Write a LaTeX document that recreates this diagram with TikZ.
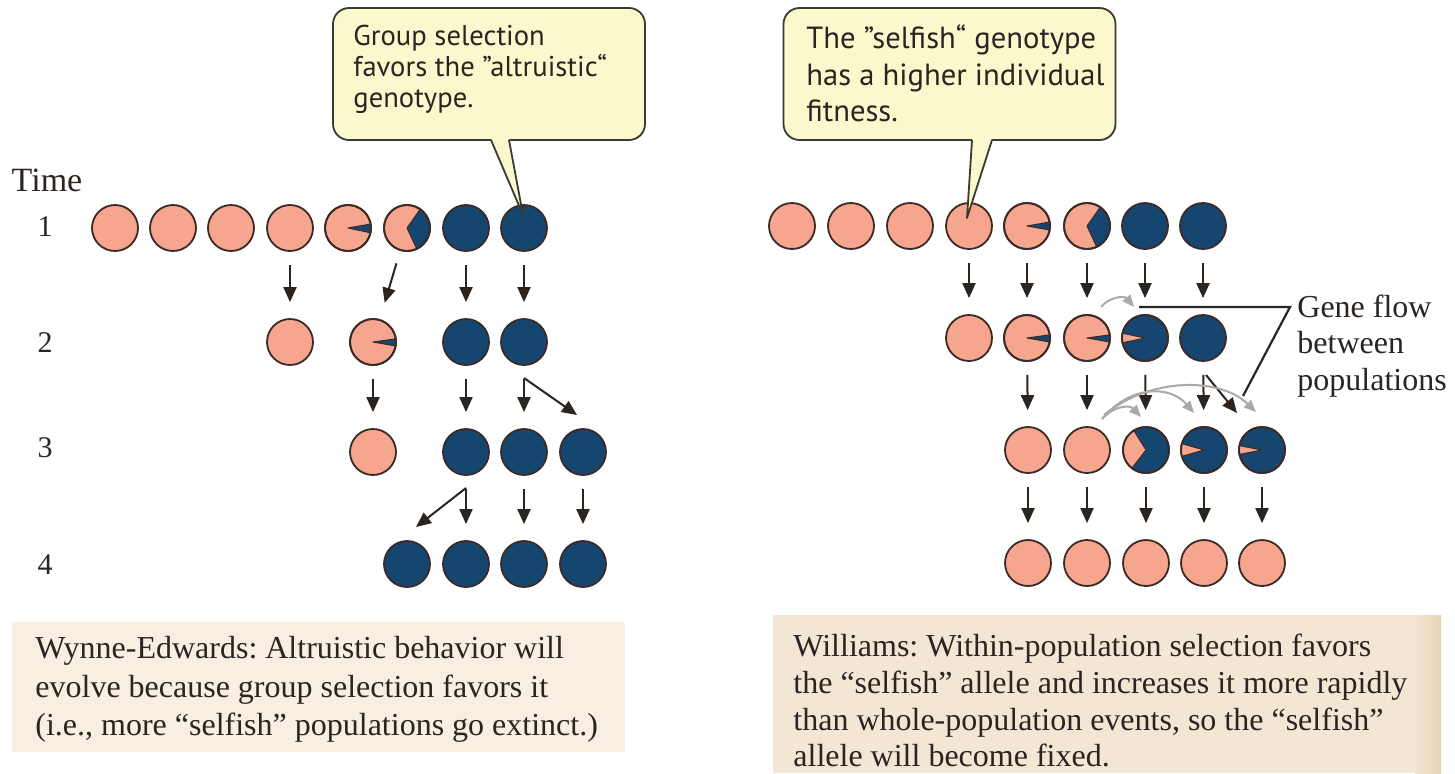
\documentclass[tikz,border=0pt]{standalone}
\usepackage{fontspec}
\setmainfont{Liberation Serif}
\newfontfamily\callfont{PT Sans}
\usetikzlibrary{arrows.meta,calc}
\frenchspacing
\definecolor{popk}{HTML}{F6A68E}
\definecolor{navy}{HTML}{15466F}
\definecolor{popedge}{HTML}{3B2A25}
\definecolor{arrc}{HTML}{2B2522}
\definecolor{txtc}{HTML}{2B2522}
\definecolor{calfill}{HTML}{FBF8CD}
\definecolor{calline}{HTML}{3A3A34}
\definecolor{capL}{HTML}{F8EEE2}
\definecolor{capR}{HTML}{F3E6D5}
\definecolor{gflow}{HTML}{A9A9A9}
\newcommand{\prad}{11.5pt}
\newcommand{\popp}[4]{\node[pop, fill=#4] (#1) at (#2,#3) {};}
\newcommand{\popw}[7]{\node[pop, fill=#4] (#1) at (#2,#3) {};
  \filldraw[fill=#5, draw=popedge, line width=0.5pt, line join=round] (#1.center) -- ++(#6:\prad) arc[start angle=#6, end angle=#7, radius=\prad] -- cycle;
  \draw[popedge, line width=0.9pt] (#1.center) circle[radius=\prad];}
\tikzset{
  pop/.style={circle, minimum size=23pt, inner sep=0pt, draw=popedge, line width=0.9pt},
  arr/.style={draw=arrc, line width=1pt, -{Triangle[length=7.5pt,width=6.5pt]}},
  downarr/.style={arr, shorten <=6.5pt, shorten >=8pt},
  garr/.style={draw=gflow, line width=1pt, -{Triangle[length=6pt,width=5pt]}},
  bracketline/.style={draw=arrc, line width=1.1pt},
  callbox/.style={draw=calline, fill=calfill, line width=0.9pt, rounded corners=8pt, anchor=center},
  calltext/.style={text=txtc, anchor=north west, align=left, inner sep=0pt},
  captext/.style={text=txtc, align=left, inner sep=0pt, font=\fontsize{16}{19.25}\selectfont},
  lbl/.style={text=txtc, inner sep=0pt, font=\fontsize{15}{19}\selectfont}
}
\begin{document}
\begin{tikzpicture}[x=0.5pt,y=-0.5pt]
\useasboundingbox (0,0) rectangle (1455,773);
\fill[white] (0,0) rectangle (1455,773);
% caption backgrounds
\fill[capL] (12,622) rectangle (625,752);
\fill[capR] (773,615) rectangle (1441,773);
\shade[left color=capR, right color=capR!80!brown] (1415,615) rectangle (1441,773);

% ---------------- left populations
\popp{L11}{115}{228}{popk}
\popp{L12}{173}{228}{popk}
\popp{L13}{231}{228}{popk}
\popp{L14}{290}{228}{popk}
\popw{L15}{348}{228}{popk}{navy}{-12}{10}
\popw{L16}{407}{228}{popk}{navy}{-65}{55}
\popp{L17}{466}{228}{navy}
\popp{L18}{524}{228}{navy}

\popp{L21}{290}{342}{popk}
\popw{L22}{373}{342}{popk}{navy}{-10}{8}
\popp{L23}{466}{342}{navy}
\popp{L24}{524}{342}{navy}

\popp{L31}{373}{452}{popk}
\popp{L32}{466}{452}{navy}
\popp{L33}{524}{452}{navy}
\popp{L34}{583}{452}{navy}

\popp{L41}{407}{564}{navy}
\popp{L42}{466}{564}{navy}
\popp{L43}{524}{564}{navy}
\popp{L44}{583}{564}{navy}

% left arrows
\draw[downarr] (L14) -- (L21);
\draw[arr, shorten <=6.5pt, shorten >=8.5pt] (L16) -- (L22);
\draw[downarr] (L17) -- (L23);
\draw[downarr] (L18) -- (L24);
\draw[downarr] (L22) -- (L31);
\draw[downarr] (L23) -- (L32);
\draw[downarr] (L24) -- (L33);
\coordinate (lf1s) at ($(L24)+(0,36)$);
\coordinate (lf1e) at (577,415);
\draw[arr] (lf1s) -- (lf1e);
\draw[downarr] (L32) -- (L42);
\draw[downarr] (L33) -- (L43);
\draw[downarr] (L34) -- (L44);
\coordinate (lf2s) at ($(L32)+(0,36)$);
\coordinate (lf2e) at (416,527);
\draw[arr] (lf2s) -- (lf2e);

% ---------------- right populations
\popp{R11}{792}{226}{popk}
\popp{R12}{851}{226}{popk}
\popp{R13}{910}{226}{popk}
\popp{R14}{969}{226}{popk}
\popw{R15}{1027}{226}{popk}{navy}{-10}{10}
\popw{R16}{1087}{226}{popk}{navy}{-65}{55}
\popp{R17}{1145}{226}{navy}
\popp{R18}{1203}{226}{navy}

\popp{R21}{969}{338}{popk}
\popw{R22}{1027}{338}{popk}{navy}{-10}{8}
\popw{R23}{1087}{338}{popk}{navy}{-10}{8}
\popw{R24}{1145}{338}{navy}{popk}{168}{192}
\popp{R25}{1203}{338}{navy}

\popp{R31}{1028}{450}{popk}
\popp{R32}{1087}{450}{popk}
\popw{R33}{1146}{450}{navy}{popk}{122}{232}
\popw{R34}{1204}{450}{navy}{popk}{164}{196}
\popw{R35}{1262}{450}{navy}{popk}{169}{191}

\popp{R41}{1028}{563}{popk}
\popp{R42}{1087}{563}{popk}
\popp{R43}{1146}{563}{popk}
\popp{R44}{1204}{563}{popk}
\popp{R45}{1262}{563}{popk}

% right arrows
\draw[downarr] (R14) -- (R21);
\draw[downarr] (R15) -- (R22);
\draw[downarr] (R16) -- (R23);
\draw[downarr] (R17) -- (R24);
\draw[downarr] (R18) -- (R25);
\draw[downarr] (R22) -- (R31);
\draw[downarr] (R23) -- (R32);
\draw[downarr] (R24) -- (R33);
\draw[downarr] (R25) -- (R34);
\coordinate (rf1s) at ($(R25)+(3,37)$);
\coordinate (rf1e) at (1237,413);
\draw[arr] (rf1s) -- (rf1e);
\draw[downarr] (R31) -- (R41);
\draw[downarr] (R32) -- (R42);
\draw[downarr] (R33) -- (R43);
\draw[downarr] (R34) -- (R44);
\draw[downarr] (R35) -- (R45);

% gene flow arcs
\coordinate (g1s) at (1101,307);
\coordinate (g1e) at (1134,307);
\draw[garr] (g1s) .. controls (1110,296) and (1125,296) .. (g1e);
\coordinate (g2s) at (1102,419);
\coordinate (g2e) at (1141,417);
\draw[garr] (g2s) .. controls (1115,405) and (1130,405) .. (g2e);
\coordinate (g3e) at (1194,413);
\draw[garr] (g2s) .. controls (1130,385) and (1170,385) .. (g3e);
\coordinate (g4s) at (1104,415);
\coordinate (g4e) at (1256,412);
\draw[garr] (g4s) .. controls (1150,377) and (1220,377) .. (g4e);

% gene flow bracket
\coordinate (gfa) at (1139,307);
\coordinate (gfb) at (1290,307);
\coordinate (gfc) at (1243,396);
\draw[bracketline] (gfa) -- (gfb) -- (gfc);
\node[lbl, anchor=west, align=left, font=\fontsize{16}{18.3}\selectfont] (gfl) at (1297,346) {Gene flow\\between\\populations};

% callouts
\node[callbox, minimum width=156pt, minimum height=66pt] (cL) at (489,74) {};
\node[calltext, font=\callfont\fontsize{14.3}{15.5}\selectfont] (cLt) at (353,25) {Group selection\\favors the ”altruistic“\\genotype.};
\coordinate (cLtip) at ($(L18)+(-1,-13)$);
\fill[calfill] (491,138) -- (cLtip) -- (509,138) -- cycle;
\draw[calline, line width=0.9pt, line join=round] (491,140) -- (cLtip) -- (509,140);

\node[callbox, minimum width=166pt, minimum height=66pt] (cR) at (949.5,74) {};
\node[calltext, font=\callfont\fontsize{15.3}{18.4}\selectfont] (cRt) at (806,24) {The ”selfish“ genotype\\has a higher individual\\fitness.};
\coordinate (cRtip) at ($(R14)+(-2,-8)$);
\fill[calfill] (972,138) -- (cRtip) -- (992,138) -- cycle;
\draw[calline, line width=0.9pt, line join=round] (972,140) -- (cRtip) -- (992,140);

% time labels
\node[lbl, font=\fontsize{17}{19}\selectfont] (tlab) at (47,180) {Time};
\node[lbl] (t1) at (45,227) {1};
\node[lbl] (t2) at (45,343) {2};
\node[lbl] (t3) at (45,448) {3};
\node[lbl] (t4) at (45,565) {4};

% captions
\node[captext, anchor=north west] (capl) at (35,636) {Wynne-Edwards: Altruistic behavior will\\evolve because group selection favors it\\(i.e., more “selfish” populations go extinct.)};
\node[captext, anchor=north west, font=\fontsize{16}{18.3}\selectfont] (capr) at (793,634) {Williams: Within-population selection favors\\the “selfish” allele and increases it more rapidly\\than whole-population events, so the “selfish”\\allele will become fixed.};
\end{tikzpicture}
\end{document}
